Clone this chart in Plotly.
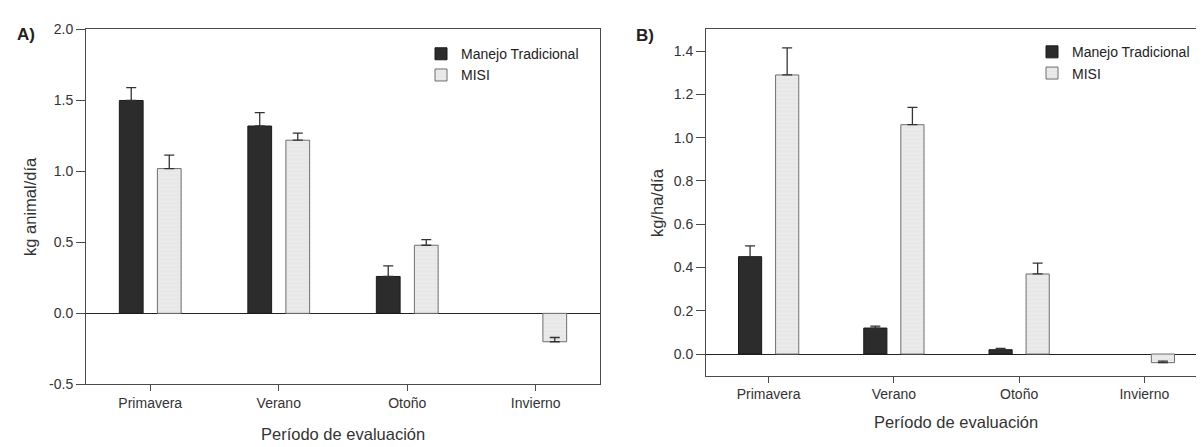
import plotly.graph_objects as go

# ---------------- data ----------------
categories = ["Primavera", "Verano", "Otoño", "Invierno"]

a_trad = [1.50, 1.32, 0.26, None]
a_trad_err = [0.09, 0.095, 0.075, 0]
a_misi = [1.02, 1.22, 0.48, -0.20]
a_misi_err = [0.095, 0.05, 0.04, 0.03]

b_trad = [0.45, 0.12, 0.02, None]
b_trad_err = [0.05, 0.009, 0.006, 0]
b_misi = [1.29, 1.06, 0.37, -0.04]
b_misi_err = [0.125, 0.08, 0.05, 0.007]

a_yticks = [-0.5, 0.0, 0.5, 1.0, 1.5, 2.0]
a_yticktext = ["-0.5", "0.0", "0.5", "1.0", "1.5", "2.0"]
b_yticks = [0.0, 0.2, 0.4, 0.6, 0.8, 1.0, 1.2, 1.4]
b_yticktext = ["0.0", "0.2", "0.4", "0.6", "0.8", "1.0", "1.2", "1.4"]

series_names = ["Manejo Tradicional", "MISI"]

# ---------------- styling ----------------
W, H = 1204, 447
FONT = "Liberation Sans, Arial, sans-serif"
DARK = "#2c2c2c"
LIGHT = "#ebebeb"
TXT = "#333333"


def px_x(p):
    return p / W


def px_y(p):
    return 1 - p / H


def err(vals):
    return dict(type="data", symmetric=False, array=vals,
                arrayminus=[0] * len(vals), color="#333333",
                thickness=1.3, width=5)


fig = go.Figure()

# Panel A
fig.add_trace(go.Bar(x=categories, y=a_trad, name=series_names[0],
                     marker=dict(color=DARK, line=dict(color="#1a1a1a", width=1)),
                     error_y=err(a_trad_err), xaxis="x", yaxis="y",
                     legend="legend"))
fig.add_trace(go.Bar(x=categories, y=a_misi, name=series_names[1],
                     marker=dict(color=LIGHT, line=dict(color="#6e6e6e", width=1),
                                 pattern=dict(shape="-", fgcolor="#d4d4d4",
                                              size=4, solidity=0.2)),
                     error_y=err(a_misi_err), xaxis="x", yaxis="y",
                     legend="legend"))
# Panel B
fig.add_trace(go.Bar(x=categories, y=b_trad, name=series_names[0],
                     marker=dict(color=DARK, line=dict(color="#1a1a1a", width=1)),
                     error_y=err(b_trad_err), xaxis="x2", yaxis="y2",
                     legend="legend2"))
fig.add_trace(go.Bar(x=categories, y=b_misi, name=series_names[1],
                     marker=dict(color=LIGHT, line=dict(color="#6e6e6e", width=1),
                                 pattern=dict(shape="-", fgcolor="#d4d4d4",
                                              size=4, solidity=0.2)),
                     error_y=err(b_misi_err), xaxis="x2", yaxis="y2",
                     legend="legend2"))

axis_common = dict(showline=True, linecolor="#4a4a4a", linewidth=1, mirror=True,
                   showgrid=False, ticks="outside", tickcolor="#4a4a4a",
                   tickfont=dict(family=FONT, size=14, color=TXT))

xcommon = dict(axis_common, type="category", ticklen=6, range=[-0.5, 3.5],
               zeroline=False)
ycommon = dict(axis_common, ticklen=9, zeroline=True,
               zerolinecolor="#222222", zerolinewidth=1.3)

legend_common = dict(font=dict(family=FONT, size=14, color="#222222"),
                     bgcolor="rgba(0,0,0,0)", borderwidth=0,
                     xanchor="left", yanchor="top", tracegroupgap=0,
                     itemwidth=30)

fig.update_layout(
    width=W, height=H, autosize=False,
    margin=dict(l=0, r=0, t=0, b=0),
    paper_bgcolor="white", plot_bgcolor="white",
    barmode="group", bargap=0.408, bargroupgap=0.375,
    font=dict(family=FONT, color=TXT),
    xaxis=dict(xcommon, domain=[px_x(78), px_x(592)], anchor="y"),
    yaxis=dict(ycommon, domain=[px_y(382), px_y(14)], anchor="x",
               range=[-0.5, 2.0], tickvals=a_yticks, ticktext=a_yticktext),
    xaxis2=dict(xcommon, domain=[px_x(698), px_x(1199)], anchor="y2"),
    yaxis2=dict(ycommon, domain=[px_y(373), px_y(14)], anchor="x2",
                range=[-0.1, 1.5], tickvals=b_yticks, ticktext=b_yticktext),
    legend=dict(legend_common, x=px_x(413), y=px_y(23)),
    legend2=dict(legend_common, x=px_x(1024), y=px_y(21)),
)

annotations = [
    dict(text="<b>A)</b>", x=px_x(18), y=px_y(19)),
    dict(text="<b>B)</b>", x=px_x(637), y=px_y(20)),
    dict(text="kg animal/día", x=px_x(22), y=px_y(198), textangle=-90, size=16.5),
    dict(text="kg/ha/día", x=px_x(649), y=px_y(194), textangle=-90, size=16.5),
    dict(text="Período de evaluación", x=px_x(335), y=px_y(433), size=16.5),
    dict(text="Período de evaluación", x=px_x(948), y=px_y(421), size=16.5),
]
for a in annotations:
    size = a.pop("size", 17)
    fig.add_annotation(xref="paper", yref="paper", showarrow=False,
                       xanchor="center", yanchor="middle",
                       font=dict(family=FONT, size=size,
                                 color="#222222" if "<b>" in a["text"] else TXT),
                       **a)

fig.write_html("out.html")
